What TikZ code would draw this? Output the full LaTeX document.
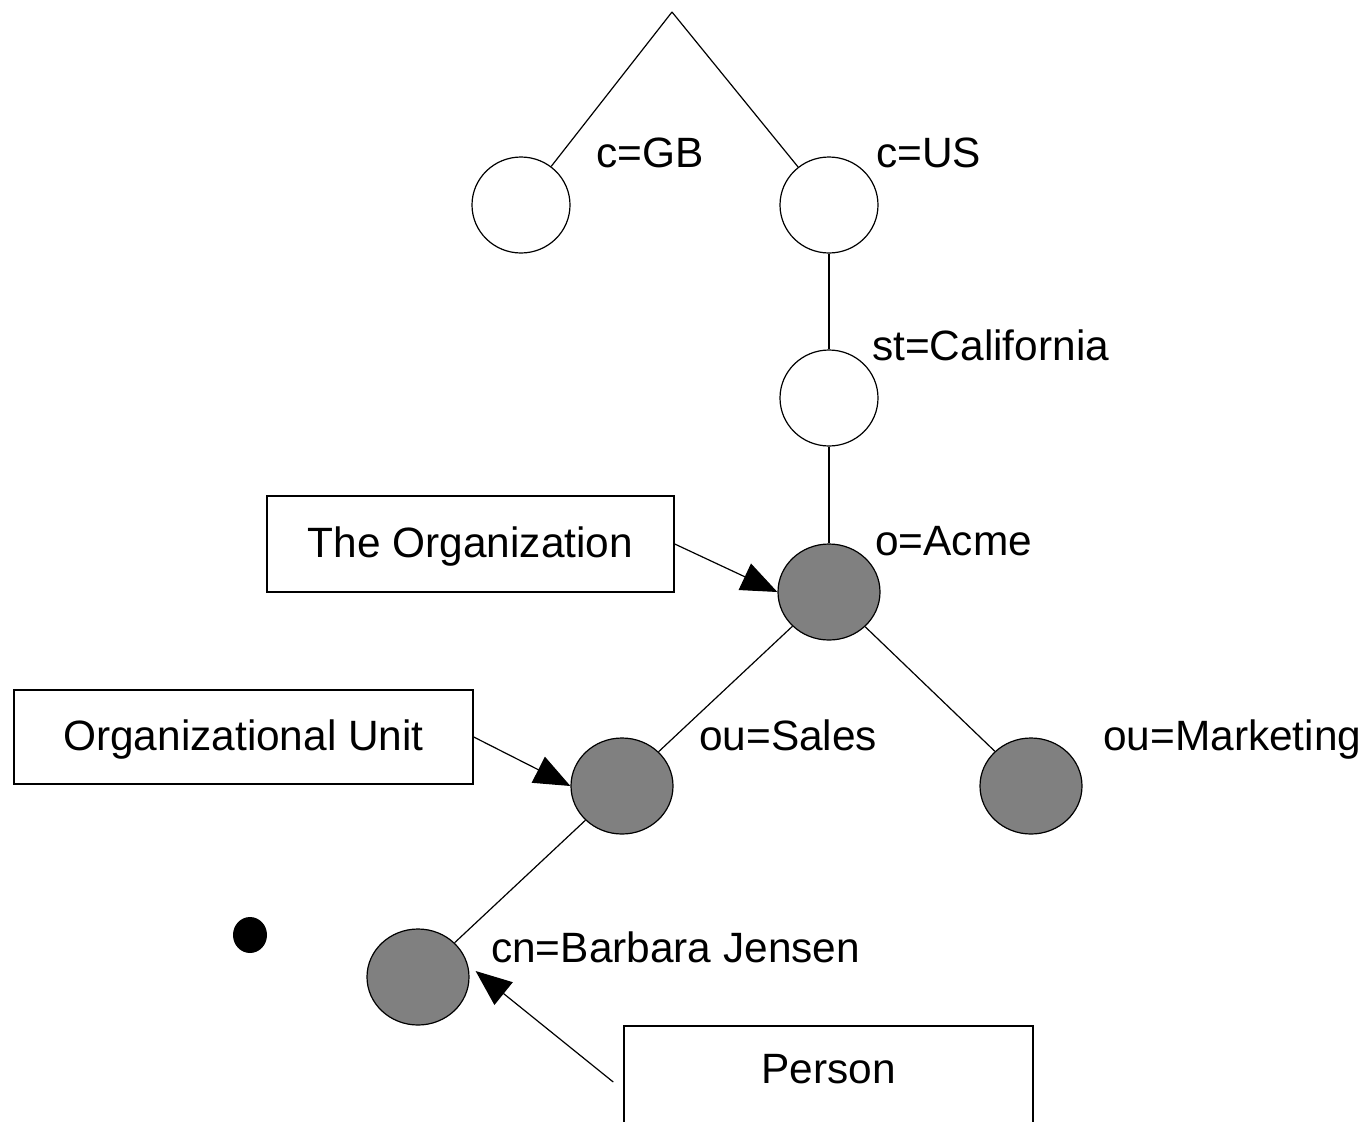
\documentclass[tikz,border=0pt]{standalone}
\usepackage{fontspec}
\setmainfont{Liberation Sans}
\usetikzlibrary{arrows.meta,shapes.geometric}
\definecolor{entrygray}{RGB}{128,128,128}
\begin{document}
\begin{tikzpicture}[x=1pt,y=-1pt,
  every node/.style={font=\fontsize{42.4}{50}\selectfont},
  link/.style={line width=1.2pt},
  emptyentry/.style={ellipse,draw,line width=1.2pt,fill=white,minimum width=98pt,minimum height=96pt,inner sep=0pt},
  fullentry/.style={ellipse,draw,line width=1.2pt,fill=entrygray,minimum width=102pt,minimum height=96pt,inner sep=0pt},
  rdn/.style={anchor=base west,inner sep=0pt},
  tagbox/.style={draw,line width=1.5pt,inner sep=0pt,text height=30pt,text depth=4pt},
  pointer/.style={line width=1.2pt,-{Triangle[length=36pt,width=29pt]}}]
\useasboundingbox (0,0) rectangle (1366,1122);
\clip (0,0) rectangle (1366,1122);
\fill[white] (0,0) rectangle (1366,1122);

% directory tree
\coordinate (root) at (672,12);
\node[emptyentry] (gb) at (521,205) {};
\node[emptyentry] (us) at (829,205) {};
\node[emptyentry] (ca) at (829,398) {};
\node[fullentry] (acme) at (829,592) {};
\node[fullentry] (sales) at (622,786) {};
\node[fullentry] (mkt) at (1031,786) {};
\node[fullentry] (bj) at (418,977) {};

\draw[link] (root) -- (gb);
\draw[link] (root) -- (us);
\draw[link] (us) -- (ca);
\draw[link] (ca) -- (acme);
\draw[link] (acme) -- (sales);
\draw[link] (acme) -- (mkt);
\draw[link] (sales) -- (bj);

% relative distinguished names
\node[rdn] (lgb) at (596,167) {c=GB};
\node[rdn] (lus) at (876,167) {c=US};
\node[rdn] (lca) at (872,360) {st=California};
\node[rdn] (lacme) at (875,555) {o=Acme};
\node[rdn] (lsales) at (699,750) {ou=Sales};
\node[rdn] (lmkt) at (1103,750) {ou=Marketing};
\node[rdn] (lbj) at (491,962) {cn=Barbara Jensen};

% stray dot
\node[ellipse,fill=black,inner sep=0pt,minimum width=34pt,minimum height=36pt] (dot) at (250,935) {};

% object class boxes
\node[tagbox,minimum width=407pt,minimum height=96pt] (org) at (470.5,544) {The Organization};
\node[tagbox,minimum width=459pt,minimum height=94pt] (ou) at (243.5,737) {Organizational Unit};
\node[tagbox,minimum width=409pt,minimum height=100pt,text height=18pt,text depth=4pt] (person) at (828.5,1076) {Person};

\draw[pointer] (org.east) -- (acme.west);
\draw[pointer] (ou.east) -- (sales.west);
\coordinate (pstart) at ([xshift=-10pt,yshift=-6pt]person.west);
\draw[pointer] (pstart) -- ([xshift=6pt,yshift=6pt]bj.east);
\end{tikzpicture}
\end{document}
